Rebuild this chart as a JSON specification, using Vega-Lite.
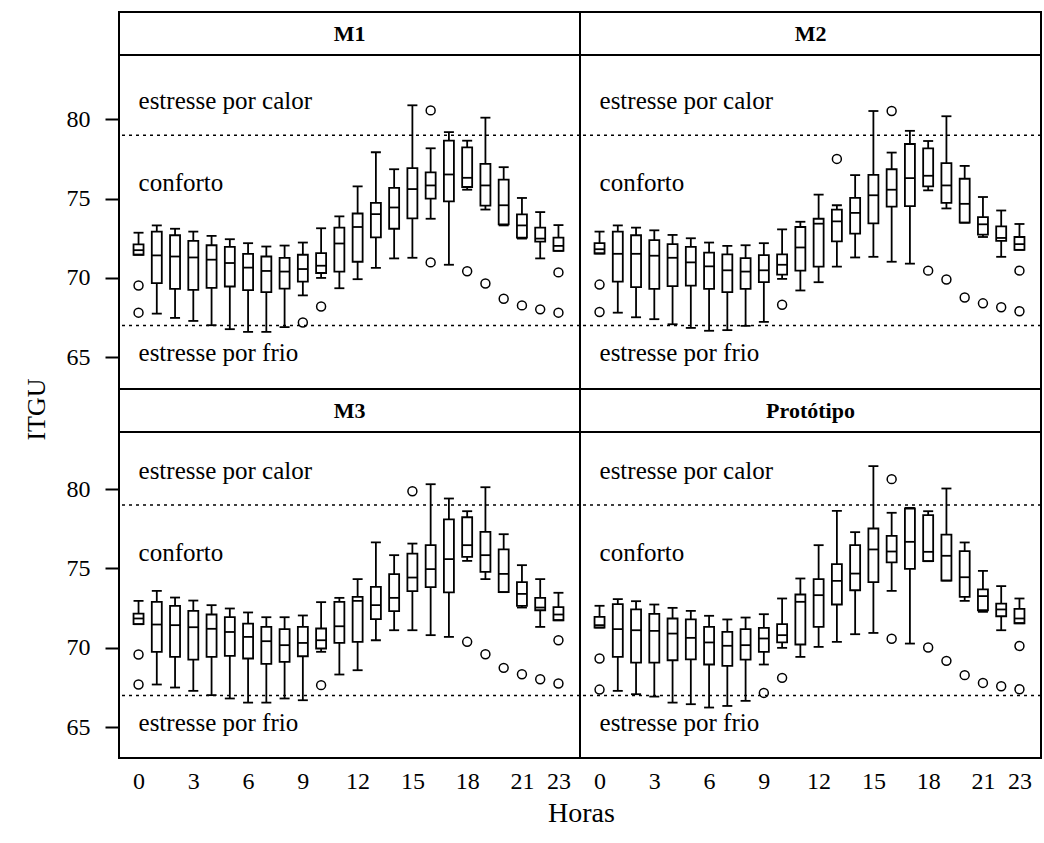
{
  "$schema": "https://vega.github.io/schema/vega-lite/v6.json",
  "padding": {"left": 22, "top": 11, "right": 0, "bottom": 0},
  "background": "white",
  "config": {
    "view": {"stroke": "black", "strokeWidth": 2},
    "font": "Liberation Serif",
    "axis": {"grid": false, "domain": false, "tickColor": "black", "tickWidth": 2, "labelColor": "black", "titleColor": "black", "labelFont": "Liberation Serif", "titleFont": "Liberation Serif", "titleFontWeight": "normal"}
  },
  "datasets": {
    "boxes": [
      {"panel":"M1","hour":0,"lo":71.46,"q1":71.46,"med":71.75,"q3":72.12,"hi":72.85},
      {"panel":"M1","hour":1,"lo":67.75,"q1":69.67,"med":71.42,"q3":72.92,"hi":73.31},
      {"panel":"M1","hour":2,"lo":67.48,"q1":69.31,"med":71.35,"q3":72.69,"hi":73.10},
      {"panel":"M1","hour":3,"lo":67.29,"q1":69.25,"med":71.29,"q3":72.33,"hi":72.92},
      {"panel":"M1","hour":4,"lo":67.02,"q1":69.37,"med":71.15,"q3":72.06,"hi":72.65},
      {"panel":"M1","hour":5,"lo":66.77,"q1":69.46,"med":70.94,"q3":71.96,"hi":72.44},
      {"panel":"M1","hour":6,"lo":66.6,"q1":69.23,"med":70.65,"q3":71.52,"hi":72.19},
      {"panel":"M1","hour":7,"lo":66.6,"q1":69.10,"med":70.44,"q3":71.35,"hi":71.98},
      {"panel":"M1","hour":8,"lo":66.9,"q1":69.33,"med":70.40,"q3":71.27,"hi":72.04},
      {"panel":"M1","hour":9,"lo":68.9,"q1":69.77,"med":70.56,"q3":71.46,"hi":72.23},
      {"panel":"M1","hour":10,"lo":70.0,"q1":70.31,"med":70.77,"q3":71.56,"hi":73.13},
      {"panel":"M1","hour":11,"lo":69.35,"q1":70.4,"med":72.17,"q3":73.17,"hi":73.88},
      {"panel":"M1","hour":12,"lo":69.92,"q1":71.02,"med":73.21,"q3":74.06,"hi":75.77},
      {"panel":"M1","hour":13,"lo":70.63,"q1":72.56,"med":74.02,"q3":74.73,"hi":77.92},
      {"panel":"M1","hour":14,"lo":71.23,"q1":73.10,"med":74.44,"q3":75.67,"hi":76.85},
      {"panel":"M1","hour":15,"lo":71.27,"q1":73.75,"med":75.6,"q3":76.92,"hi":80.88},
      {"panel":"M1","hour":16,"lo":73.73,"q1":75.0,"med":75.83,"q3":76.65,"hi":78.17},
      {"panel":"M1","hour":17,"lo":70.83,"q1":74.83,"med":76.52,"q3":78.65,"hi":79.19},
      {"panel":"M1","hour":18,"lo":75.56,"q1":75.73,"med":76.31,"q3":78.23,"hi":78.65},
      {"panel":"M1","hour":19,"lo":74.31,"q1":74.56,"med":75.83,"q3":77.19,"hi":80.1},
      {"panel":"M1","hour":20,"lo":73.31,"q1":73.38,"med":74.58,"q3":76.19,"hi":76.98},
      {"panel":"M1","hour":21,"lo":72.48,"q1":72.54,"med":73.31,"q3":74.0,"hi":75.04},
      {"panel":"M1","hour":22,"lo":71.23,"q1":72.29,"med":72.48,"q3":73.17,"hi":74.15},
      {"panel":"M1","hour":23,"lo":71.71,"q1":71.71,"med":72.02,"q3":72.54,"hi":73.33},
      {"panel":"M2","hour":0,"lo":71.54,"q1":71.54,"med":71.81,"q3":72.19,"hi":72.92},
      {"panel":"M2","hour":1,"lo":67.81,"q1":69.77,"med":71.52,"q3":72.92,"hi":73.31},
      {"panel":"M2","hour":2,"lo":67.52,"q1":69.42,"med":71.52,"q3":72.69,"hi":73.17},
      {"panel":"M2","hour":3,"lo":67.4,"q1":69.31,"med":71.4,"q3":72.38,"hi":73.0},
      {"panel":"M2","hour":4,"lo":67.08,"q1":69.48,"med":71.27,"q3":72.13,"hi":72.71},
      {"panel":"M2","hour":5,"lo":66.85,"q1":69.52,"med":70.98,"q3":71.96,"hi":72.5},
      {"panel":"M2","hour":6,"lo":66.67,"q1":69.31,"med":70.73,"q3":71.6,"hi":72.23},
      {"panel":"M2","hour":7,"lo":66.71,"q1":69.1,"med":70.48,"q3":71.48,"hi":72.02},
      {"panel":"M2","hour":8,"lo":66.98,"q1":69.31,"med":70.4,"q3":71.25,"hi":72.06},
      {"panel":"M2","hour":9,"lo":67.23,"q1":69.73,"med":70.48,"q3":71.44,"hi":72.19},
      {"panel":"M2","hour":10,"lo":69.94,"q1":70.21,"med":70.83,"q3":71.48,"hi":73.06},
      {"panel":"M2","hour":11,"lo":69.21,"q1":70.46,"med":71.92,"q3":73.21,"hi":73.54},
      {"panel":"M2","hour":12,"lo":69.73,"q1":70.71,"med":73.42,"q3":73.73,"hi":75.25},
      {"panel":"M2","hour":13,"lo":70.71,"q1":72.31,"med":73.56,"q3":74.31,"hi":74.58},
      {"panel":"M2","hour":14,"lo":71.29,"q1":72.79,"med":74.1,"q3":75.04,"hi":76.48},
      {"panel":"M2","hour":15,"lo":71.33,"q1":73.44,"med":75.21,"q3":76.5,"hi":80.52},
      {"panel":"M2","hour":16,"lo":71.02,"q1":74.5,"med":75.56,"q3":76.85,"hi":77.9},
      {"panel":"M2","hour":17,"lo":70.9,"q1":74.52,"med":76.29,"q3":78.44,"hi":79.27},
      {"panel":"M2","hour":18,"lo":75.52,"q1":75.77,"med":76.44,"q3":78.17,"hi":78.63},
      {"panel":"M2","hour":19,"lo":74.38,"q1":74.73,"med":75.83,"q3":77.23,"hi":80.19},
      {"panel":"M2","hour":20,"lo":73.48,"q1":73.48,"med":74.67,"q3":76.25,"hi":77.06},
      {"panel":"M2","hour":21,"lo":72.58,"q1":72.73,"med":73.38,"q3":73.83,"hi":75.1},
      {"panel":"M2","hour":22,"lo":71.33,"q1":72.33,"med":72.52,"q3":73.25,"hi":74.25},
      {"panel":"M2","hour":23,"lo":71.77,"q1":71.77,"med":72.13,"q3":72.58,"hi":73.4},
      {"panel":"M3","hour":0,"lo":71.49,"q1":71.49,"med":71.85,"q3":72.16,"hi":72.96},
      {"panel":"M3","hour":1,"lo":67.69,"q1":69.75,"med":71.47,"q3":72.9,"hi":73.59},
      {"panel":"M3","hour":2,"lo":67.5,"q1":69.43,"med":71.43,"q3":72.65,"hi":73.17},
      {"panel":"M3","hour":3,"lo":67.29,"q1":69.26,"med":71.3,"q3":72.33,"hi":72.98},
      {"panel":"M3","hour":4,"lo":67.02,"q1":69.43,"med":71.2,"q3":72.1,"hi":72.69},
      {"panel":"M3","hour":5,"lo":66.81,"q1":69.49,"med":71.0,"q3":71.93,"hi":72.48},
      {"panel":"M3","hour":6,"lo":66.55,"q1":69.33,"med":70.69,"q3":71.53,"hi":72.23},
      {"panel":"M3","hour":7,"lo":66.55,"q1":68.99,"med":70.42,"q3":71.32,"hi":71.93},
      {"panel":"M3","hour":8,"lo":66.81,"q1":69.12,"med":70.17,"q3":71.18,"hi":71.93},
      {"panel":"M3","hour":9,"lo":66.7,"q1":69.47,"med":70.31,"q3":71.32,"hi":72.04},
      {"panel":"M3","hour":10,"lo":69.75,"q1":69.96,"med":70.48,"q3":71.22,"hi":72.88},
      {"panel":"M3","hour":11,"lo":68.32,"q1":70.31,"med":71.36,"q3":72.9,"hi":73.15},
      {"panel":"M3","hour":12,"lo":68.59,"q1":70.38,"med":72.96,"q3":73.21,"hi":74.33},
      {"panel":"M3","hour":13,"lo":70.48,"q1":71.81,"med":72.69,"q3":73.84,"hi":76.64},
      {"panel":"M3","hour":14,"lo":71.11,"q1":72.31,"med":73.15,"q3":74.64,"hi":75.84},
      {"panel":"M3","hour":15,"lo":71.11,"q1":73.57,"med":74.43,"q3":75.94,"hi":76.57},
      {"panel":"M3","hour":16,"lo":70.8,"q1":73.82,"med":74.96,"q3":76.47,"hi":80.31},
      {"panel":"M3","hour":17,"lo":70.69,"q1":73.49,"med":75.59,"q3":78.09,"hi":79.41},
      {"panel":"M3","hour":18,"lo":75.48,"q1":75.73,"med":76.47,"q3":78.23,"hi":78.61},
      {"panel":"M3","hour":19,"lo":74.33,"q1":74.79,"med":75.84,"q3":77.31,"hi":80.12},
      {"panel":"M3","hour":20,"lo":73.51,"q1":73.51,"med":74.66,"q3":76.2,"hi":77.16},
      {"panel":"M3","hour":21,"lo":72.54,"q1":72.65,"med":73.4,"q3":74.14,"hi":75.21},
      {"panel":"M3","hour":22,"lo":71.32,"q1":72.37,"med":72.54,"q3":73.15,"hi":74.33},
      {"panel":"M3","hour":23,"lo":71.74,"q1":71.74,"med":72.1,"q3":72.56,"hi":73.47},
      {"panel":"Protótipo","hour":0,"lo":71.28,"q1":71.28,"med":71.43,"q3":71.95,"hi":72.65},
      {"panel":"Protótipo","hour":1,"lo":67.29,"q1":69.43,"med":71.18,"q3":72.75,"hi":73.07},
      {"panel":"Protótipo","hour":2,"lo":67.08,"q1":69.07,"med":71.11,"q3":72.42,"hi":72.94},
      {"panel":"Protótipo","hour":3,"lo":66.93,"q1":69.07,"med":71.07,"q3":72.14,"hi":72.73},
      {"panel":"Protótipo","hour":4,"lo":66.55,"q1":69.22,"med":70.9,"q3":71.85,"hi":72.52},
      {"panel":"Protótipo","hour":5,"lo":66.45,"q1":69.28,"med":70.63,"q3":71.79,"hi":72.33},
      {"panel":"Protótipo","hour":6,"lo":66.24,"q1":68.95,"med":70.34,"q3":71.32,"hi":72.02},
      {"panel":"Protótipo","hour":7,"lo":66.34,"q1":68.87,"med":70.13,"q3":71.01,"hi":71.79},
      {"panel":"Protótipo","hour":8,"lo":66.66,"q1":69.26,"med":70.17,"q3":71.18,"hi":71.91},
      {"panel":"Protótipo","hour":9,"lo":68.95,"q1":69.75,"med":70.59,"q3":71.26,"hi":72.12},
      {"panel":"Protótipo","hour":10,"lo":70.0,"q1":70.35,"med":70.8,"q3":71.49,"hi":73.11},
      {"panel":"Protótipo","hour":11,"lo":69.43,"q1":70.21,"med":72.9,"q3":73.36,"hi":74.37},
      {"panel":"Protótipo","hour":12,"lo":70.06,"q1":71.32,"med":73.32,"q3":74.33,"hi":76.47},
      {"panel":"Protótipo","hour":13,"lo":70.38,"q1":72.73,"med":74.22,"q3":75.27,"hi":78.63},
      {"panel":"Protótipo","hour":14,"lo":70.86,"q1":73.63,"med":74.68,"q3":76.47,"hi":77.29},
      {"panel":"Protótipo","hour":15,"lo":70.94,"q1":74.14,"med":76.2,"q3":77.52,"hi":81.45},
      {"panel":"Protótipo","hour":16,"lo":73.59,"q1":75.38,"med":76.07,"q3":77.06,"hi":78.51},
      {"panel":"Protótipo","hour":17,"lo":70.27,"q1":74.98,"med":76.68,"q3":78.78,"hi":78.82},
      {"panel":"Protótipo","hour":18,"lo":75.46,"q1":75.46,"med":76.05,"q3":78.36,"hi":78.61},
      {"panel":"Protótipo","hour":19,"lo":74.24,"q1":74.24,"med":75.8,"q3":77.14,"hi":80.04},
      {"panel":"Protótipo","hour":20,"lo":72.96,"q1":73.21,"med":74.45,"q3":76.09,"hi":76.64},
      {"panel":"Protótipo","hour":21,"lo":72.27,"q1":72.37,"med":73.26,"q3":73.68,"hi":74.85},
      {"panel":"Protótipo","hour":22,"lo":71.11,"q1":71.99,"med":72.42,"q3":72.79,"hi":73.89},
      {"panel":"Protótipo","hour":23,"lo":71.55,"q1":71.55,"med":71.85,"q3":72.46,"hi":73.11}
    ],
    "outliers": [
      {"panel":"M1","hour":0,"v":69.52},{"panel":"M1","hour":0,"v":67.81},{"panel":"M1","hour":9,"v":67.19},{"panel":"M1","hour":10,"v":68.2},
      {"panel":"M1","hour":16,"v":80.56},{"panel":"M1","hour":16,"v":70.98},{"panel":"M1","hour":18,"v":70.42},{"panel":"M1","hour":19,"v":69.65},
      {"panel":"M1","hour":20,"v":68.69},{"panel":"M1","hour":21,"v":68.27},{"panel":"M1","hour":22,"v":68.02},{"panel":"M1","hour":23,"v":70.35},{"panel":"M1","hour":23,"v":67.81},
      {"panel":"M2","hour":0,"v":69.58},{"panel":"M2","hour":0,"v":67.85},{"panel":"M2","hour":10,"v":68.31},{"panel":"M2","hour":13,"v":77.5},
      {"panel":"M2","hour":16,"v":80.52},{"panel":"M2","hour":18,"v":70.46},{"panel":"M2","hour":19,"v":69.9},{"panel":"M2","hour":20,"v":68.77},
      {"panel":"M2","hour":21,"v":68.4},{"panel":"M2","hour":22,"v":68.15},{"panel":"M2","hour":23,"v":70.46},{"panel":"M2","hour":23,"v":67.9},
      {"panel":"M3","hour":0,"v":69.58},{"panel":"M3","hour":0,"v":67.69},{"panel":"M3","hour":10,"v":67.65},{"panel":"M3","hour":15,"v":79.87},
      {"panel":"M3","hour":18,"v":70.38},{"panel":"M3","hour":19,"v":69.6},{"panel":"M3","hour":20,"v":68.74},{"panel":"M3","hour":21,"v":68.34},
      {"panel":"M3","hour":22,"v":68.02},{"panel":"M3","hour":23,"v":70.48},{"panel":"M3","hour":23,"v":67.75},
      {"panel":"Protótipo","hour":0,"v":69.33},{"panel":"Protótipo","hour":0,"v":67.37},{"panel":"Protótipo","hour":9,"v":67.16},{"panel":"Protótipo","hour":10,"v":68.11},
      {"panel":"Protótipo","hour":16,"v":80.63},{"panel":"Protótipo","hour":16,"v":70.57},{"panel":"Protótipo","hour":18,"v":70.02},{"panel":"Protótipo","hour":19,"v":69.18},
      {"panel":"Protótipo","hour":20,"v":68.28},{"panel":"Protótipo","hour":21,"v":67.79},{"panel":"Protótipo","hour":22,"v":67.58},{"panel":"Protótipo","hour":23,"v":70.12},{"panel":"Protótipo","hour":23,"v":67.39}
    ],
    "zones": [
      {"label":"estresse por calor","hour":0,"v":80.65},
      {"label":"conforto","hour":0,"v":75.5},
      {"label":"estresse por frio","hour":0,"v":64.75}
    ],
    "refs": [{"v":79},{"v":67}],
    "strips": [{"p":"M1"},{"p":"M2"},{"p":"M3"},{"p":"Protótipo"}]
  },
  "concat": [
    {"width":461,"height":43,"data":{"name":"strips"},"transform":[{"filter":"datum.p==='M1'"}],
     "mark":{"type":"text","font":"Liberation Serif","fontWeight":"bold","fontSize":22,"baseline":"middle","align":"center","color":"black"},
     "encoding":{"x":{"datum":0.5,"type":"quantitative","scale":{"domain":[0,1]},"axis":null},"y":{"datum":0.5,"type":"quantitative","scale":{"domain":[0,1]},"axis":null},"text":{"field":"p"}}},
    {"width":461,"height":43,"data":{"name":"strips"},"transform":[{"filter":"datum.p==='M2'"}],
     "mark":{"type":"text","font":"Liberation Serif","fontWeight":"bold","fontSize":22,"baseline":"middle","align":"center","color":"black"},
     "encoding":{"x":{"datum":0.5,"type":"quantitative","scale":{"domain":[0,1]},"axis":null},"y":{"datum":0.5,"type":"quantitative","scale":{"domain":[0,1]},"axis":null},"text":{"field":"p"}}},
    {"width":461,"height":334,
     "encoding":{"x":{"field":"hour","type":"quantitative","scale":{"domain":[-1.07,24.18],"nice":false,"zero":false,"padding":0},"axis":null}},
     "layer":[
      {"data":{"name":"refs"},"mark":{"type":"rule","strokeDash":[3,4],"strokeWidth":1.5,"color":"black"},"encoding":{"x":null,"y":{"field":"v","type":"quantitative","scale":{"domain":[63.0,84.05],"nice":false,"zero":false},"axis":{"values":[65,70,75,80],"tickSize":14,"labelPadding":15,"labelFontSize":24,"title":"ITGU","titleFontSize":26,"titleX":-83,"titleY":354,"titleAlign":"center","titleBaseline":"middle","titleAngle":-90}}}},
      {"data":{"name":"zones"},"mark":{"type":"text","align":"left","baseline":"alphabetic","font":"Liberation Serif","fontSize":25,"color":"black"},"encoding":{"y":{"field":"v","type":"quantitative"},"text":{"field":"label"}}},
      {"data":{"name":"boxes"},"transform":[{"filter":"datum.panel==='M1'"}],"mark":{"type":"rule","strokeWidth":1.8,"color":"black"},"encoding":{"y":{"field":"lo","type":"quantitative"},"y2":{"field":"hi"}}},
      {"data":{"name":"boxes"},"transform":[{"filter":"datum.panel==='M1'"}],"mark":{"type":"bar","fill":"white","stroke":"black","strokeWidth":1.8,"size":10},"encoding":{"y":{"field":"q1","type":"quantitative"},"y2":{"field":"q3"}}},
      {"data":{"name":"boxes"},"transform":[{"filter":"datum.panel==='M1'"}],"mark":{"type":"tick","orient":"horizontal","size":10,"thickness":1.8,"color":"black","opacity":1},"encoding":{"y":{"field":"med","type":"quantitative"}}},
      {"data":{"name":"boxes"},"transform":[{"filter":"datum.panel==='M1'"}],"mark":{"type":"tick","orient":"horizontal","size":10,"thickness":1.8,"color":"black","opacity":1},"encoding":{"y":{"field":"lo","type":"quantitative"}}},
      {"data":{"name":"boxes"},"transform":[{"filter":"datum.panel==='M1'"}],"mark":{"type":"tick","orient":"horizontal","size":10,"thickness":1.8,"color":"black","opacity":1},"encoding":{"y":{"field":"hi","type":"quantitative"}}},
      {"data":{"name":"outliers"},"transform":[{"filter":"datum.panel==='M1'"}],"mark":{"type":"point","shape":"circle","size":80,"filled":false,"stroke":"black","strokeWidth":1.5,"opacity":1},"encoding":{"y":{"field":"v","type":"quantitative"}}}
     ]},
    {"width":461,"height":334,
     "encoding":{"x":{"field":"hour","type":"quantitative","scale":{"domain":[-1.07,24.18],"nice":false,"zero":false,"padding":0},"axis":null}},
     "layer":[
      {"data":{"name":"refs"},"mark":{"type":"rule","strokeDash":[3,4],"strokeWidth":1.5,"color":"black"},"encoding":{"x":null,"y":{"field":"v","type":"quantitative","scale":{"domain":[63.0,84.05],"nice":false,"zero":false},"axis":null}}},
      {"data":{"name":"zones"},"mark":{"type":"text","align":"left","baseline":"alphabetic","font":"Liberation Serif","fontSize":25,"color":"black"},"encoding":{"y":{"field":"v","type":"quantitative"},"text":{"field":"label"}}},
      {"data":{"name":"boxes"},"transform":[{"filter":"datum.panel==='M2'"}],"mark":{"type":"rule","strokeWidth":1.8,"color":"black"},"encoding":{"y":{"field":"lo","type":"quantitative"},"y2":{"field":"hi"}}},
      {"data":{"name":"boxes"},"transform":[{"filter":"datum.panel==='M2'"}],"mark":{"type":"bar","fill":"white","stroke":"black","strokeWidth":1.8,"size":10},"encoding":{"y":{"field":"q1","type":"quantitative"},"y2":{"field":"q3"}}},
      {"data":{"name":"boxes"},"transform":[{"filter":"datum.panel==='M2'"}],"mark":{"type":"tick","orient":"horizontal","size":10,"thickness":1.8,"color":"black","opacity":1},"encoding":{"y":{"field":"med","type":"quantitative"}}},
      {"data":{"name":"boxes"},"transform":[{"filter":"datum.panel==='M2'"}],"mark":{"type":"tick","orient":"horizontal","size":10,"thickness":1.8,"color":"black","opacity":1},"encoding":{"y":{"field":"lo","type":"quantitative"}}},
      {"data":{"name":"boxes"},"transform":[{"filter":"datum.panel==='M2'"}],"mark":{"type":"tick","orient":"horizontal","size":10,"thickness":1.8,"color":"black","opacity":1},"encoding":{"y":{"field":"hi","type":"quantitative"}}},
      {"data":{"name":"outliers"},"transform":[{"filter":"datum.panel==='M2'"}],"mark":{"type":"point","shape":"circle","size":80,"filled":false,"stroke":"black","strokeWidth":1.5,"opacity":1},"encoding":{"y":{"field":"v","type":"quantitative"}}}
     ]},
    {"width":461,"height":43,"data":{"name":"strips"},"transform":[{"filter":"datum.p==='M3'"}],
     "mark":{"type":"text","font":"Liberation Serif","fontWeight":"bold","fontSize":22,"baseline":"middle","align":"center","color":"black"},
     "encoding":{"x":{"datum":0.5,"type":"quantitative","scale":{"domain":[0,1]},"axis":null},"y":{"datum":0.5,"type":"quantitative","scale":{"domain":[0,1]},"axis":null},"text":{"field":"p"}}},
    {"width":461,"height":43,"data":{"name":"strips"},"transform":[{"filter":"datum.p==='Protótipo'"}],
     "mark":{"type":"text","font":"Liberation Serif","fontWeight":"bold","fontSize":22,"baseline":"middle","align":"center","color":"black"},
     "encoding":{"x":{"datum":0.5,"type":"quantitative","scale":{"domain":[0,1]},"axis":null},"y":{"datum":0.5,"type":"quantitative","scale":{"domain":[0,1]},"axis":null},"text":{"field":"p"}}},
    {"width":461,"height":326,
     "encoding":{"x":{"field":"hour","type":"quantitative","scale":{"domain":[-1.07,24.18],"nice":false,"zero":false,"padding":0},"axis":{"values":[0,3,6,9,12,15,18,21,23],"tickSize":0,"labelPadding":11,"labelFontSize":24,"title":"Horas","titleFontSize":28,"titleX":462,"titleY":55,"titleAlign":"center","titleBaseline":"middle"}}},
     "layer":[
      {"data":{"name":"refs"},"mark":{"type":"rule","strokeDash":[3,4],"strokeWidth":1.5,"color":"black"},"encoding":{"x":null,"y":{"field":"v","type":"quantitative","scale":{"domain":[63.06,83.6],"nice":false,"zero":false},"axis":{"values":[65,70,75,80],"tickSize":14,"labelPadding":15,"labelFontSize":24,"title":null}}}},
      {"data":{"name":"zones"},"mark":{"type":"text","align":"left","baseline":"alphabetic","font":"Liberation Serif","fontSize":25,"color":"black"},"encoding":{"y":{"field":"v","type":"quantitative"},"text":{"field":"label"}}},
      {"data":{"name":"boxes"},"transform":[{"filter":"datum.panel==='M3'"}],"mark":{"type":"rule","strokeWidth":1.8,"color":"black"},"encoding":{"y":{"field":"lo","type":"quantitative"},"y2":{"field":"hi"}}},
      {"data":{"name":"boxes"},"transform":[{"filter":"datum.panel==='M3'"}],"mark":{"type":"bar","fill":"white","stroke":"black","strokeWidth":1.8,"size":10},"encoding":{"y":{"field":"q1","type":"quantitative"},"y2":{"field":"q3"}}},
      {"data":{"name":"boxes"},"transform":[{"filter":"datum.panel==='M3'"}],"mark":{"type":"tick","orient":"horizontal","size":10,"thickness":1.8,"color":"black","opacity":1},"encoding":{"y":{"field":"med","type":"quantitative"}}},
      {"data":{"name":"boxes"},"transform":[{"filter":"datum.panel==='M3'"}],"mark":{"type":"tick","orient":"horizontal","size":10,"thickness":1.8,"color":"black","opacity":1},"encoding":{"y":{"field":"lo","type":"quantitative"}}},
      {"data":{"name":"boxes"},"transform":[{"filter":"datum.panel==='M3'"}],"mark":{"type":"tick","orient":"horizontal","size":10,"thickness":1.8,"color":"black","opacity":1},"encoding":{"y":{"field":"hi","type":"quantitative"}}},
      {"data":{"name":"outliers"},"transform":[{"filter":"datum.panel==='M3'"}],"mark":{"type":"point","shape":"circle","size":80,"filled":false,"stroke":"black","strokeWidth":1.5,"opacity":1},"encoding":{"y":{"field":"v","type":"quantitative"}}}
     ]},
    {"width":461,"height":326,
     "encoding":{"x":{"field":"hour","type":"quantitative","scale":{"domain":[-1.07,24.18],"nice":false,"zero":false,"padding":0},"axis":{"values":[0,3,6,9,12,15,18,21,23],"tickSize":0,"labelPadding":11,"labelFontSize":24,"title":null}}},
     "layer":[
      {"data":{"name":"refs"},"mark":{"type":"rule","strokeDash":[3,4],"strokeWidth":1.5,"color":"black"},"encoding":{"x":null,"y":{"field":"v","type":"quantitative","scale":{"domain":[63.06,83.6],"nice":false,"zero":false},"axis":null}}},
      {"data":{"name":"zones"},"mark":{"type":"text","align":"left","baseline":"alphabetic","font":"Liberation Serif","fontSize":25,"color":"black"},"encoding":{"y":{"field":"v","type":"quantitative"},"text":{"field":"label"}}},
      {"data":{"name":"boxes"},"transform":[{"filter":"datum.panel==='Protótipo'"}],"mark":{"type":"rule","strokeWidth":1.8,"color":"black"},"encoding":{"y":{"field":"lo","type":"quantitative"},"y2":{"field":"hi"}}},
      {"data":{"name":"boxes"},"transform":[{"filter":"datum.panel==='Protótipo'"}],"mark":{"type":"bar","fill":"white","stroke":"black","strokeWidth":1.8,"size":10},"encoding":{"y":{"field":"q1","type":"quantitative"},"y2":{"field":"q3"}}},
      {"data":{"name":"boxes"},"transform":[{"filter":"datum.panel==='Protótipo'"}],"mark":{"type":"tick","orient":"horizontal","size":10,"thickness":1.8,"color":"black","opacity":1},"encoding":{"y":{"field":"med","type":"quantitative"}}},
      {"data":{"name":"boxes"},"transform":[{"filter":"datum.panel==='Protótipo'"}],"mark":{"type":"tick","orient":"horizontal","size":10,"thickness":1.8,"color":"black","opacity":1},"encoding":{"y":{"field":"lo","type":"quantitative"}}},
      {"data":{"name":"boxes"},"transform":[{"filter":"datum.panel==='Protótipo'"}],"mark":{"type":"tick","orient":"horizontal","size":10,"thickness":1.8,"color":"black","opacity":1},"encoding":{"y":{"field":"hi","type":"quantitative"}}},
      {"data":{"name":"outliers"},"transform":[{"filter":"datum.panel==='Protótipo'"}],"mark":{"type":"point","shape":"circle","size":80,"filled":false,"stroke":"black","strokeWidth":1.5,"opacity":1},"encoding":{"y":{"field":"v","type":"quantitative"}}}
     ]}
  ],
  "columns": 2,
  "spacing": 0,
  "bounds": "flush"
}
